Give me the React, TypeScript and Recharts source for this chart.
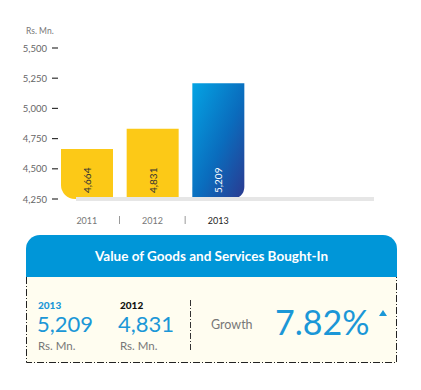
import React from "react";
import { Bar, BarChart, Cell, LabelList, ReferenceLine, XAxis, YAxis } from "recharts";

const years = ["2011", "2012", "2013"];
const values = [4664, 4831, 5209];
const yTicks = [4250, 4500, 4750, 5000, 5250, 5500];

const data = years.map((year, index) => ({ year, value: values[index] }));

const font = "Lato, 'Open Sans', sans-serif";
const blue = "#1b97d7";
const yellow = "#fcc917";

const formatNum = (value: number) => value.toLocaleString("en-US");

const YTick = (props: any) => {
  const { x, y, payload } = props;
  return (
    <g>
      <text x={x - 7} y={y} textAnchor="end" dominantBaseline="central" fontSize={9.5} fill="#666" fontFamily={font}>
        {formatNum(payload.value)}
      </text>
      <line x1={x - 2} x2={x + 4} y1={y} y2={y} stroke="#333" strokeWidth={1.2} />
    </g>
  );
};

const XTick = (props: any) => {
  const { x, y, payload, index } = props;
  return (
    <g>
      {index > 0 && <line x1={x - 33} x2={x - 33} y1={y + 9} y2={y + 17} stroke="#999" strokeWidth={1} />}
      <text
        x={x}
        y={y + 13}
        textAnchor="middle"
        dominantBaseline="central"
        fontSize={9}
        fill={index === 2 ? "#222" : "#777"}
        fontFamily={font}
      >
        {payload.value}
      </text>
    </g>
  );
};

const roundedBar = (props: any) => {
  const { x, y, width, height, fill, index } = props;
  const bottom = y + height;
  const right = x + width;
  let d = `M${x},${y} H${right} V${bottom} H${x} Z`;
  if (index === 0) {
    const r = 14;
    d = `M${x},${y} H${right} V${bottom} H${x + r} A${r},${r} 0 0 1 ${x},${bottom - r} Z`;
  } else if (index === 2) {
    const r = 12;
    d = `M${x},${y} H${right} V${bottom - r} A${r},${r} 0 0 1 ${right - r},${bottom} H${x} Z`;
  }
  return <path d={d} fill={fill} />;
};

const ValueLabel = (props: any) => {
  const { x, y, width, height, value, index } = props;
  const cx = x + width / 2;
  const by = y + height - 6;
  return (
    <text
      x={cx}
      y={by}
      transform={`rotate(-90, ${cx}, ${by})`}
      textAnchor="start"
      dominantBaseline="central"
      fontSize={10}
      fill={index === 2 ? "#fff" : "#333"}
      fontFamily={font}
    >
      {formatNum(value)}
    </text>
  );
};

const Baseline = (props: any) => {
  const { x1, x2, y1 } = props;
  return <rect x={x1 + 22} y={y1 - 2} width={x2 - x1 - 22} height={4} fill="#e6e6e6" />;
};

export default function App() {
  return (
    <div style={{ position: "absolute", left: 0, top: 0, width: 421, height: 390, background: "#fff", fontFamily: font }}>
      <div style={{ position: "absolute", left: 26, top: 26, fontSize: 8.5, color: "#777" }}>Rs. Mn.</div>
      <div style={{ position: "absolute", left: 0, top: 0 }}>
        <BarChart width={421} height={230} data={data} margin={{ top: 48, right: 47, left: 0, bottom: 0 }} barSize={52}>
          <defs>
            <linearGradient id="blueGrad" x1="0" y1="0" x2="1" y2="1">
              <stop offset="0%" stopColor="#04a4e4" />
              <stop offset="55%" stopColor="#0a6cbd" />
              <stop offset="100%" stopColor="#2b3990" />
            </linearGradient>
          </defs>
          <XAxis
            dataKey="year"
            axisLine={false}
            tickLine={false}
            height={31}
            padding={{ left: 0, right: 123 }}
            tick={<XTick />}
            interval={0}
          />
          <YAxis
            width={54}
            domain={[4250, 5500]}
            ticks={yTicks}
            axisLine={false}
            tickLine={false}
            tickSize={0}
            tickMargin={0}
            tick={<YTick />}
          />
          <ReferenceLine y={4250} shape={<Baseline />} />
          <Bar dataKey="value" isAnimationActive={false} shape={roundedBar}>
            {data.map((entry, index) => (
              <Cell key={entry.year} fill={index === 2 ? "url(#blueGrad)" : yellow} />
            ))}
            <LabelList dataKey="value" content={<ValueLabel />} />
          </Bar>
        </BarChart>
      </div>

      <div
        style={{
          position: "absolute",
          left: 26,
          top: 235,
          width: 371,
          height: 42,
          background: "#0096d8",
          borderRadius: "14px 14px 0 0",
          color: "#fff",
          fontSize: 13.5,
          fontWeight: 700,
          lineHeight: "42px",
          textAlign: "center",
        }}
      >
        Value of Goods and Services Bought-In
      </div>
      <div style={{ position: "absolute", left: 26, top: 277, width: 371, height: 86, background: "#fffdf0" }}>
        <svg width={371} height={86} style={{ position: "absolute", left: 0, top: 0 }}>
          <path d="M0.5,0 V85.5 H370.5 V0" fill="none" stroke="#222" strokeWidth={1} strokeDasharray="7 2 1 2" />
          <line x1={164.5} x2={164.5} y1={23} y2={75} stroke="#333" strokeWidth={1} strokeDasharray="6 2 1 2" />
          <path d="M353,39 L357,33 L361,39 Z" fill={blue} />
        </svg>
        <div style={{ position: "absolute", left: 12, top: 23, fontSize: 10, fontWeight: 900, color: blue, lineHeight: 1 }}>2013</div>
        <div style={{ position: "absolute", left: 94, top: 23, fontSize: 10, fontWeight: 900, color: "#111", lineHeight: 1 }}>2012</div>
        <div style={{ position: "absolute", left: 11, top: 36, fontSize: 22, color: blue, lineHeight: 1 }}>5,209</div>
        <div style={{ position: "absolute", left: 92, top: 36, fontSize: 22, color: blue, lineHeight: 1 }}>4,831</div>
        <div style={{ position: "absolute", left: 12, top: 63, fontSize: 11.5, color: "#777", lineHeight: 1 }}>Rs. Mn.</div>
        <div style={{ position: "absolute", left: 94, top: 63, fontSize: 11.5, color: "#777", lineHeight: 1 }}>Rs. Mn.</div>
        <div style={{ position: "absolute", left: 185, top: 42, fontSize: 12.5, color: "#777", lineHeight: 1 }}>Growth</div>
        <div style={{ position: "absolute", left: 249, top: 28, fontSize: 34, color: blue, lineHeight: 1 }}>7.82%</div>
      </div>
    </div>
  );
}
